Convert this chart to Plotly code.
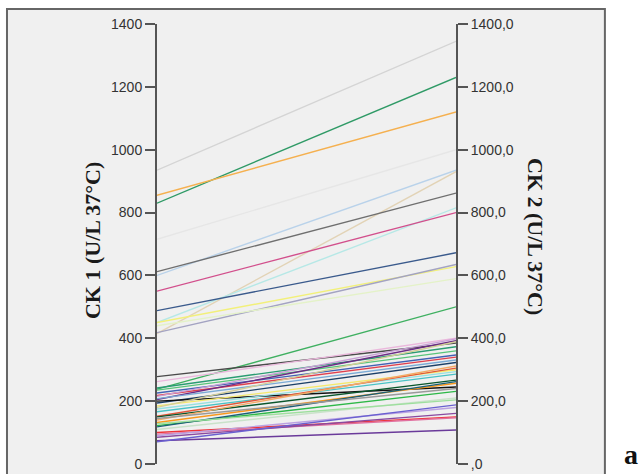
import plotly.graph_objects as go

# Paired CK measurements: first sample (CK 1) and second sample (CK 2), U/L at 37°C
ck1 = [935, 830, 855, 715, 600, 415, 612, 450, 550, 488, 450, 418, 440, 238,
       278, 262, 242, 235, 226, 218, 205, 208, 194, 200, 185, 175, 166, 152,
       150, 140, 132, 122, 118, 110, 100, 95, 85, 90, 74, 71, 128, 145, 180, 215]
ck2 = [1345, 1230, 1120, 1000, 935, 930, 862, 815, 800, 672, 628, 635, 590, 500,
       385, 400, 373, 360, 347, 340, 392, 331, 323, 245, 300, 294, 286, 305,
       267, 312, 257, 231, 262, 210, 150, 147, 161, 180, 108, 188, 204, 240, 389, 398]
colors = ["#d4d4d4", "#2f9a66", "#f5b04f", "#e6e6e6", "#b9d2ea", "#e2d3b6",
          "#6f6f6f", "#b6e8e6", "#d24f8c", "#3a5a8c", "#f2f07a", "#a3a3c2",
          "#e4f2c8", "#3fb061",
          "#4a4a4a", "#eab8dc", "#2a9c72", "#58c47a", "#4262b4", "#e0404e",
          "#6c2c86", "#7aaad5", "#1c4068", "#111111", "#f4e86c", "#96e0e0",
          "#48c2c5", "#e2583a", "#0a562c", "#f3aa66", "#f8981d", "#2eb848",
          "#1a5f76", "#c9e2c9", "#ef3338", "#e070a0", "#8a4aa0", "#bba2e2",
          "#6a3a9a", "#6a60d0", "#9edf9e", "#9a9a9a", "#d3ce97", "#c9a0d6"]

left_ticks = [0, 200, 400, 600, 800, 1000, 1200, 1400]
left_labels = ["0", "200", "400", "600", "800", "1000", "1200", "1400"]
right_labels = [",0", "200,0", "400,0", "600,0", "800,0", "1000,0", "1200,0", "1400,0"]

fig = go.Figure()
for a, b, c in zip(ck1, ck2, colors):
    fig.add_trace(go.Scatter(x=[0, 1], y=[a, b], mode="lines",
                             line=dict(color=c, width=1.4),
                             hoverinfo="skip", showlegend=False))
# invisible trace to carry the right-hand axis
fig.add_trace(go.Scatter(x=[0, 1], y=[0, 0], yaxis="y2", mode="lines",
                         line=dict(width=0), hoverinfo="skip", showlegend=False))

axis_common = dict(range=[0, 1400], showgrid=False, zeroline=False,
                   showline=True, linecolor="#555555", linewidth=2,
                   ticks="outside", ticklen=10, tickwidth=2, tickcolor="#555555",
                   tickvals=left_ticks, automargin=False,
                   tickfont=dict(family="Liberation Sans, Arial", size=14, color="#333333"))

title_font = dict(family="Liberation Serif, Times New Roman", size=22,
                  color="#1a1a1a", weight="bold")

fig.update_layout(
    template="none",
    width=639, height=474,
    margin=dict(l=157, r=183, t=24, b=10),
    paper_bgcolor="white",
    plot_bgcolor="rgba(0,0,0,0)",
    xaxis=dict(range=[0, 1], visible=False, fixedrange=True),
    yaxis=dict(ticktext=left_labels, side="left", **axis_common),
    yaxis2=dict(ticktext=right_labels, side="right", overlaying="y", **axis_common),
    shapes=[dict(type="rect", xref="paper", yref="paper",
                 x0=-0.5017, x1=1.498, y0=-0.06, y1=1.034,
                 fillcolor="#f0f0f0", line=dict(color="#666666", width=2),
                 layer="below")],
    annotations=[
        dict(text="CK 1 (U/L 37°C)", xref="paper", yref="paper",
             x=-0.2174, y=0.509, xanchor="center", yanchor="middle",
             textangle=-90, showarrow=False, font=title_font),
        dict(text="CK 2 (U/L 37°C)", xref="paper", yref="paper",
             x=1.264, y=0.516, xanchor="center", yanchor="middle",
             textangle=90, showarrow=False, font=title_font),
        dict(text="a", xref="paper", yref="paper", x=1.585, y=0.022,
             xanchor="center", yanchor="middle", showarrow=False,
             font=dict(family="Liberation Serif, Times New Roman", size=28,
                       color="#111111", weight="bold")),
    ],
)

fig.write_html("out.html")
